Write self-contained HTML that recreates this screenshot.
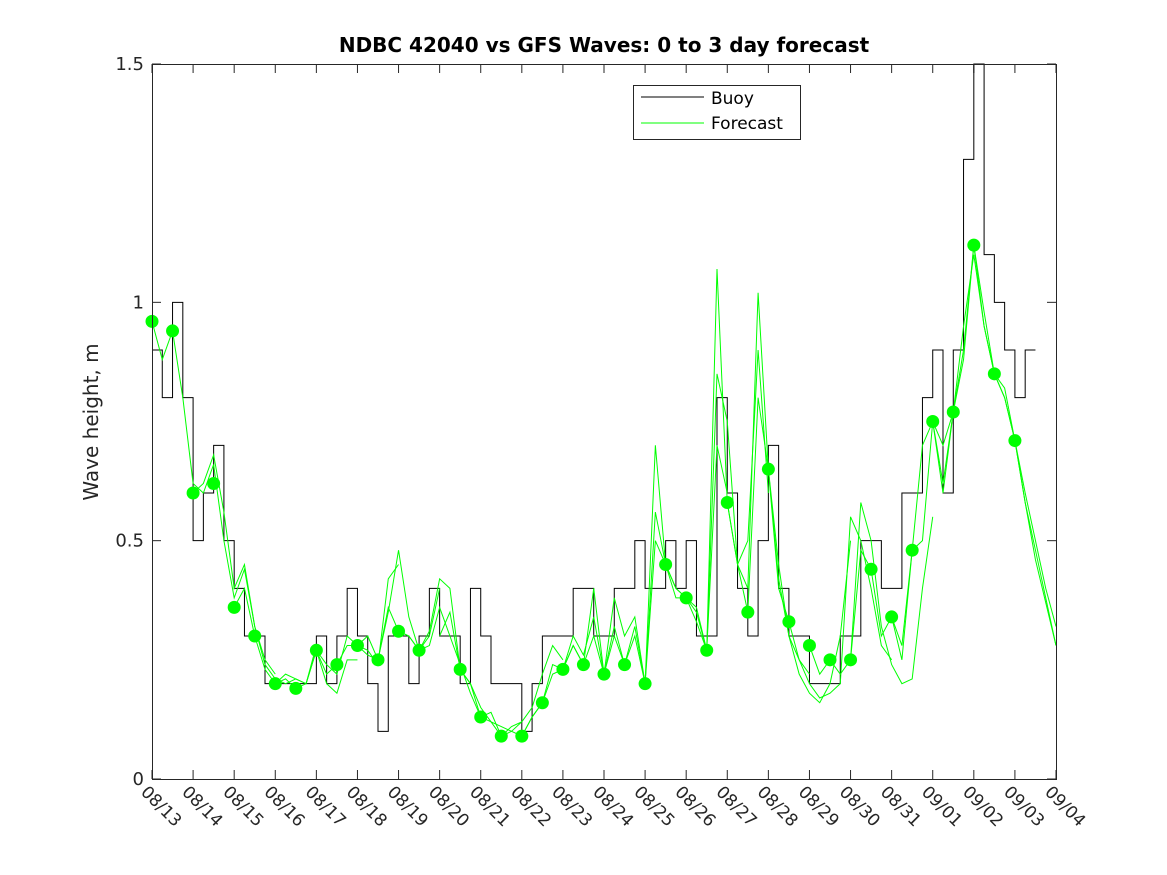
<!DOCTYPE html>
<html><head><meta charset="utf-8"><style>
body{margin:0;background:#fff;}
svg{display:block;font-family:"DejaVu Sans","Liberation Sans",sans-serif;}
</style></head><body>
<svg id="chart" width="1167" height="875" viewBox="0 0 1167 875">
<rect x="0" y="0" width="1167" height="875" fill="#fff"/>
<rect x="152" y="64" width="904" height="715" fill="#fff" stroke="none"/>
<g id="grid"></g>
<g id="series"></g>
<rect x="152.5" y="64.5" width="904" height="715" fill="none" stroke="#262626" stroke-width="1"/>
<text x="604" y="52" text-anchor="middle" font-size="20" font-weight="bold" fill="#000">NDBC 42040 vs GFS Waves: 0 to 3 day forecast</text>
<text transform="translate(98,422) rotate(-90)" text-anchor="middle" font-size="20" fill="#262626">Wave height, m</text>
<g>
<rect x="633.5" y="85.5" width="167" height="54" fill="#fff" stroke="#262626"/>
<line x1="641" y1="97" x2="704" y2="97" stroke="#000"/>
<text x="711" y="104" font-size="17" fill="#000">Buoy</text>
<line x1="641" y1="123" x2="704" y2="123" stroke="#00ff00"/>
<text x="711" y="129" font-size="17" fill="#000">Forecast</text>
</g>
</svg>
<script>
const xLabels=["08/13","08/14","08/15","08/16","08/17","08/18","08/19","08/20","08/21","08/22","08/23","08/24","08/25","08/26","08/27","08/28","08/29","08/30","08/31","09/01","09/02","09/03","09/04"];
const yTicks=[0,0.5,1,1.5];
const buoy=[0.9,0.8,1.0,0.8,0.5,0.6,0.7,0.5,0.4,0.3,0.3,0.2,0.2,0.2,0.2,0.2,0.3,0.2,0.3,0.4,0.3,0.2,0.1,0.3,0.3,0.2,0.3,0.4,0.3,0.3,0.2,0.4,0.3,0.2,0.2,0.2,0.1,0.2,0.3,0.3,0.3,0.4,0.4,0.3,0.3,0.4,0.4,0.5,0.4,0.4,0.5,0.4,0.5,0.3,0.3,0.8,0.6,0.4,0.3,0.5,0.7,0.4,0.3,0.3,0.2,0.2,0.2,0.3,0.3,0.5,0.5,0.4,0.4,0.6,0.6,0.8,0.9,0.6,0.9,1.3,1.5,1.1,1.0,0.9,0.8,0.9];
const forecastStarts=[0,1,2,3,4,5,6,7,8,9,10,11,12,13,14,15,16,17,18,19,20,21];
const forecastRuns=[
[0.96,0.88,0.94,0.8,0.62,0.6,0.66,0.5,0.38,0.44,0.32,0.25,0.22],
[0.60,0.62,0.68,0.56,0.40,0.45,0.32,0.24,0.21,0.20,0.21,0.20,0.28],
[0.36,0.40,0.30,0.23,0.20,0.22,0.21,0.20,0.27,0.20,0.18,0.25,0.25],
[0.20,0.21,0.19,0.20,0.27,0.24,0.22,0.30,0.28,0.27,0.24,0.42,0.45],
[0.27,0.22,0.24,0.28,0.28,0.26,0.25,0.35,0.48,0.34,0.27,0.30,0.40],
[0.28,0.30,0.25,0.36,0.31,0.30,0.27,0.28,0.36,0.30,0.24,0.18,0.13],
[0.31,0.30,0.27,0.31,0.42,0.40,0.23,0.20,0.15,0.12,0.11,0.10,0.12],
[0.30,0.35,0.23,0.20,0.13,0.14,0.09,0.11,0.12,0.15,0.22,0.28,0.25],
[0.13,0.12,0.09,0.10,0.09,0.13,0.16,0.22,0.23,0.30,0.26,0.34,0.22],
[0.09,0.13,0.16,0.24,0.23,0.28,0.24,0.40,0.22,0.38,0.30,0.34,0.20],
[0.23,0.28,0.24,0.30,0.22,0.32,0.24,0.30,0.20,0.56,0.45,0.40,0.38],
[0.22,0.30,0.24,0.32,0.20,0.50,0.45,0.38,0.38,0.36,0.27,0.70,0.60],
[0.20,0.70,0.45,0.40,0.38,0.35,0.27,0.85,0.75,0.45,0.50,0.90,0.60],
[0.38,0.33,0.27,1.07,0.58,0.45,0.40,1.02,0.65,0.45,0.30,0.25,0.22],
[0.58,0.45,0.35,0.80,0.65,0.42,0.30,0.22,0.18,0.16,0.20,0.30,0.50],
[0.65,0.40,0.33,0.25,0.20,0.17,0.18,0.20,0.55,0.50,0.40,0.28,0.25],
[0.28,0.22,0.25,0.22,0.25,0.58,0.50,0.32,0.24,0.20,0.21,0.40,0.55],
[0.25,0.48,0.44,0.30,0.34,0.25,0.48,0.50,0.75,0.60,0.77,0.90,1.12],
[0.34,0.28,0.48,0.70,0.75,0.62,0.77,0.95,1.10,0.95,0.85,0.82,0.71],
[0.75,0.70,0.77,0.88,1.12,0.98,0.85,0.80,0.71,0.58,0.48,0.38,0.28],
[1.12,0.95,0.85,0.80,0.71,0.60,0.50,0.40,0.32],
[0.71,0.58,0.46,0.37,0.28]];
const dotDays=[0,0.5,1,1.5,2,2.5,3,3.5,4,4.5,5,5.5,6,6.5,7.5,8,8.5,9,9.5,10,10.5,11,11.5,12,12.5,13,13.5,14,14.5,15,15.5,16,16.5,17,17.5,18,18.5,19,19.5,20,20.5,21];
const dotValues=[0.96,0.94,0.60,0.62,0.36,0.30,0.20,0.19,0.27,0.24,0.28,0.25,0.31,0.27,0.23,0.13,0.09,0.09,0.16,0.23,0.24,0.22,0.24,0.20,0.45,0.38,0.27,0.58,0.35,0.65,0.33,0.28,0.25,0.25,0.44,0.34,0.48,0.75,0.77,1.12,0.85,0.71];

const X0=152,X1=1056,Y0=779,Y1=64;
const xs=d=>X0+d*(X1-X0)/22;
const ys=v=>Y0-v*(Y0-Y1)/1.5;
const NS="http://www.w3.org/2000/svg";
const grid=document.getElementById('grid'),ser=document.getElementById('series');
function mk(tag,attrs,parent){const e=document.createElementNS(NS,tag);for(const k in attrs)e.setAttribute(k,attrs[k]);parent.appendChild(e);return e;}

xLabels.forEach((l,i)=>{
  const x=xs(i);
  const t1=mk('line',{x1:x,y1:Y0,x2:x,y2:Y0-9,stroke:'#262626'},grid);
  
  
  const t2=mk('line',{x1:x,y1:Y1,x2:x,y2:Y1+9,stroke:'#262626'},grid);
  
  
  const tx=mk('text',{x:0,y:0,'font-size':17,fill:'#262626',transform:`translate(${x-12},${Y0+14}) rotate(45)`},grid);
  tx.textContent=l;
  
  
});
yTicks.forEach(v=>{
  const y=ys(v);
  const a=mk('line',{x1:X0,y1:y,x2:X0+9,y2:y,stroke:'#262626'},grid);
  
  
  const b=mk('line',{x1:X1,y1:y,x2:X1-9,y2:y,stroke:'#262626'},grid);
  
  
  const t=mk('text',{x:X0-8,y:y+6,'text-anchor':'end','font-size':18,fill:'#262626'},grid);
  t.textContent=String(v);
  
  
});

let d='';
buoy.forEach((v,i)=>{
  const x=xs(i*0.25),y=ys(v);
  if(i===0)d+=`M${x},${y}`;else d+=`H${x}V${y}`;
});
d+=`H${xs(buoy.length*0.25)}`;
const bl=mk('path',{d:d,fill:'none',stroke:'#000','stroke-width':1},ser);



forecastRuns.forEach((run,r)=>{
  const pts=run.map((v,i)=>`${xs(forecastStarts[r]+i*0.25)},${ys(v)}`).join(' ');
  const p=mk('polyline',{points:pts,fill:'none',stroke:'#00ff00','stroke-width':1},ser);
  
  
});
dotDays.forEach((dd,i)=>{
  const c=mk('circle',{cx:xs(dd),cy:ys(dotValues[i]),r:6.5,fill:'#00ff00'},ser);
  
  
});
</script>
</body></html>
